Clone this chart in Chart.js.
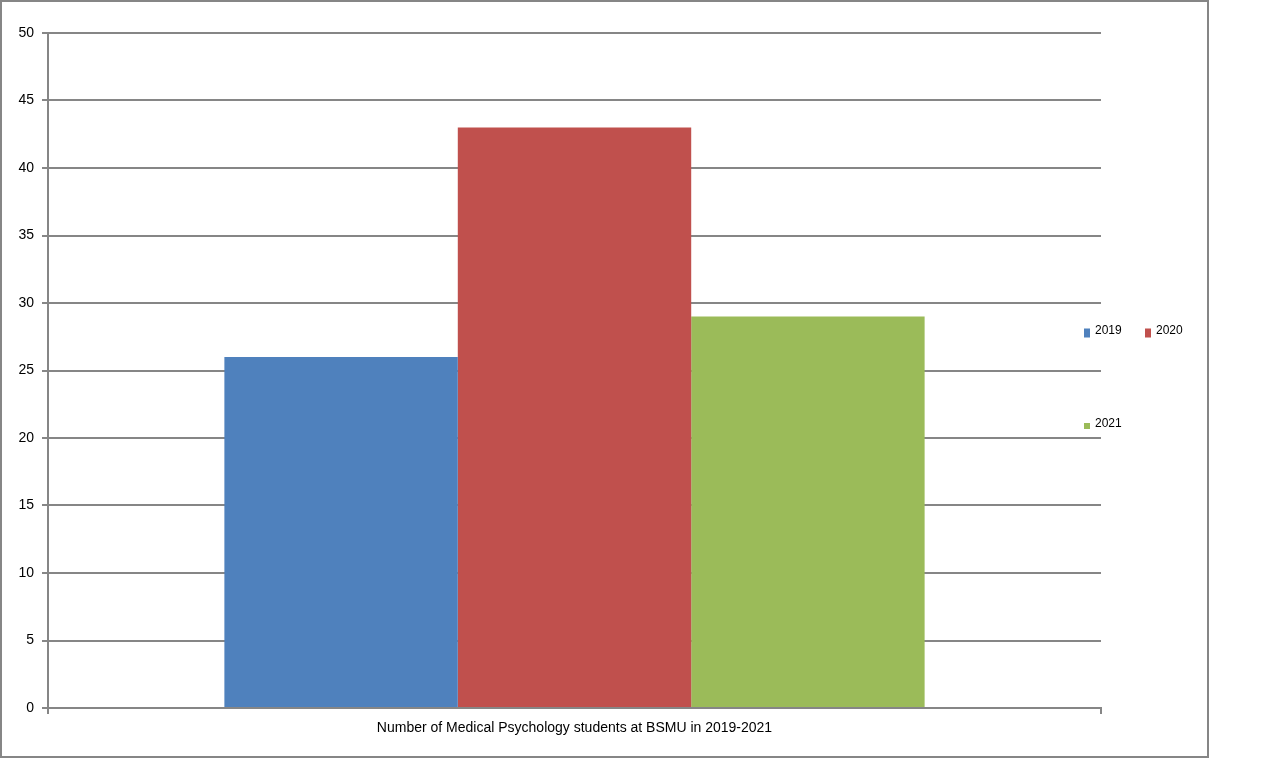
<!DOCTYPE html>
<html lang="en">
<head>
  <meta charset="UTF-8">
  <script src="https://cdn.jsdelivr.net/npm/chart.js@4/dist/chart.umd.min.js"></script>
  <title>Medical Psychology students</title>
  <style>
    body { margin: 0; background: #fff; }
    #box { width: 1280px; height: 781px; }
  </style>
</head>
<body>
  <div id="box"><canvas id="myChart" width="1280" height="781"></canvas></div>
  <script>
    // chart data
    const categories = ['Number of Medical Psychology students at BSMU in 2019-2021'];
    const years = ['2019', '2020', '2021'];
    const students = [26, 43, 29];
    const yearColors = ['#4F81BD', '#C0504D', '#9BBB59'];
    const yTicks = [0, 5, 10, 15, 20, 25, 30, 35, 40, 45, 50];

    const gray = '#868686';
    const font = 'Liberation Sans';

    // outer frame of the chart
    const framePlugin = {
      id: 'frame',
      beforeDraw(chart) {
        const ctx = chart.ctx;
        ctx.save();
        ctx.fillStyle = '#fff';
        ctx.fillRect(0, 0, chart.width, chart.height);
        ctx.strokeStyle = gray;
        ctx.lineWidth = 2;
        ctx.strokeRect(1, 1, 1207, 756);
        ctx.restore();
      }
    };

    // legend laid out like the original: two on first row, third lower
    const legendPlugin = {
      id: 'sideLegend',
      afterDraw(chart) {
        const ctx = chart.ctx;
        const spots = [[1084, 331, 9], [1145, 331, 9], [1084, 424, 6]];
        ctx.save();
        ctx.font = '12px "' + font + '"';
        ctx.textBaseline = 'middle';
        ctx.fillStyle = '#000';
        chart.data.datasets.forEach((ds, i) => {
          const [x, y, h] = spots[i];
          ctx.fillStyle = ds.backgroundColor;
          ctx.fillRect(x, y - h / 2 + 2, 6, h);
          ctx.fillStyle = '#000';
          ctx.fillText(ds.label, x + 11, y);
        });
        ctx.restore();
      }
    };

    const ctx = document.getElementById('myChart').getContext('2d');
    const myChart = new Chart(ctx, {
      type: 'bar',
      data: {
        labels: categories,
        datasets: years.map((y, i) => ({
          label: y,
          data: [students[i]],
          backgroundColor: yearColors[i],
          borderWidth: 0,
          barPercentage: 1,
          categoryPercentage: 0.665
        }))
      },
      options: {
        responsive: false,
        animation: false,
        layout: { padding: { left: 0, top: 33, right: 179, bottom: 33 } },
        plugins: {
          legend: { display: false },
          tooltip: { enabled: false }
        },
        scales: {
          x: {
            afterFit: s => { s.height = 40; },
            grid: { drawOnChartArea: false, drawTicks: true, tickLength: 6, color: gray, lineWidth: 2 },
            border: { display: true, color: gray, width: 2 },
            ticks: { color: '#000', padding: 6, font: { family: font, size: 14 } }
          },
          y: {
            min: 0,
            max: 50,
            afterFit: s => { s.width = 48; },
            afterBuildTicks: s => { s.ticks = yTicks.map(v => ({ value: v })); },
            grid: { color: gray, lineWidth: 2, tickLength: 6 },
            border: { display: true, color: gray, width: 2 },
            ticks: { color: '#000', padding: 8, font: { family: font, size: 14 } }
          }
        }
      },
      plugins: [framePlugin, legendPlugin]
    });
  </script>
</body>
</html>
